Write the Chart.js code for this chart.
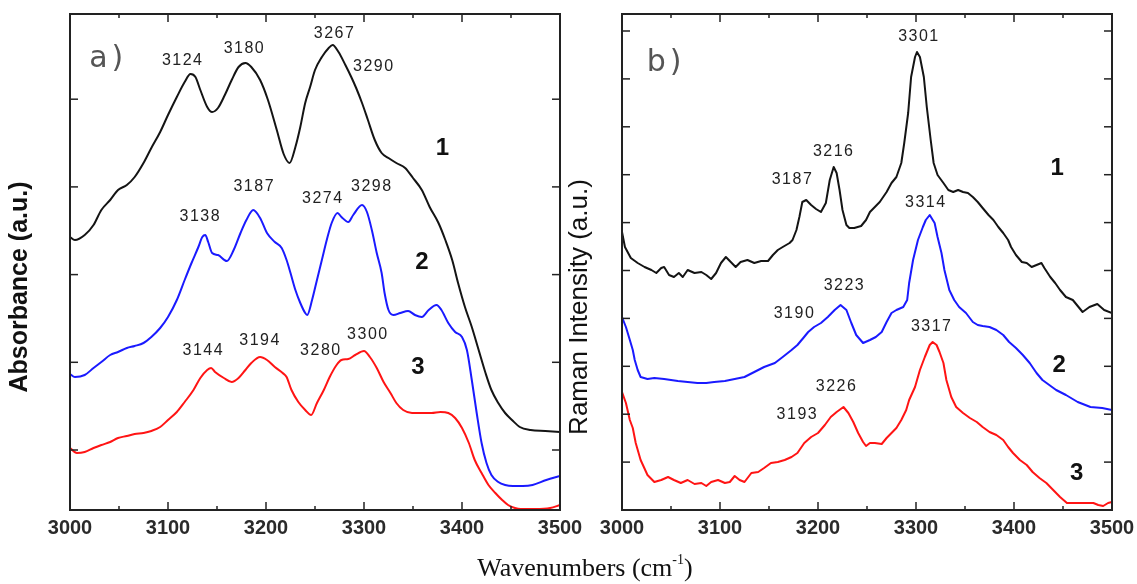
<!DOCTYPE html>
<html>
<head>
<meta charset="utf-8">
<script src="https://cdn.jsdelivr.net/npm/chart.js@4.4.1/dist/chart.umd.min.js"></script>
<style>
  html, body { margin: 0; padding: 0; background: #fff; }
  #page { position: relative; width: 1137px; height: 584px; overflow: hidden; background: #fff; }
  canvas { position: absolute; top: 0; }
  #absChart { left: 0; }
  #ramanChart { left: 560px; }
  #xtitle {
    position: absolute; left: 0; width: 1170px; top: 553px; text-align: center;
    font: 26px 'Liberation Serif', 'Times New Roman', serif; color: #111; line-height: 30px;
  }
  #xtitle sup { font-size: 14px; vertical-align: baseline; position: relative; top: -12px; }
</style>
</head>
<body>
<div id="page">
  <canvas id="absChart" width="590" height="584"></canvas>
  <canvas id="ramanChart" width="577" height="584"></canvas>
  <div id="xtitle">Wavenumbers (cm<sup>-1</sup>)</div>
</div>
<script>
// Wavenumber axis (shared by both panels)
const xTickValues = [3000, 3100, 3200, 3300, 3400, 3500];
const xTickLabels = ['3000', '3100', '3200', '3300', '3400', '3500'];
const xMinorTicks = [3050, 3150, 3250, 3350, 3450];

// Unlabelled y tick marks, arbitrary units
const absTicks = [0.600, 1.477, 2.354, 3.231, 4.108];
const ramanTicks = [0.479, 0.958, 1.437, 1.916, 2.395, 2.874, 3.353, 3.832, 4.311, 4.790];

// a) IR absorbance, [wavenumber, absorbance a.u.]
const abs1 = [
  [3000, 2.73], [3005, 2.70], [3015, 2.75], [3024, 2.85], [3032, 3.00], [3041, 3.10], [3049, 3.20],
  [3058, 3.25], [3066, 3.33], [3075, 3.47], [3083, 3.62], [3092, 3.78], [3100, 3.95], [3109, 4.13],
  [3117, 4.28], [3123, 4.36], [3128, 4.33], [3133, 4.20], [3140, 4.03], [3145, 3.98], [3151, 4.02],
  [3158, 4.15], [3165, 4.30], [3172, 4.43], [3179, 4.47], [3185, 4.43], [3194, 4.30], [3202, 4.10],
  [3211, 3.80], [3218, 3.56], [3224, 3.47], [3230, 3.63], [3235, 3.83], [3240, 4.07], [3245, 4.23],
  [3250, 4.40], [3257, 4.53], [3264, 4.62], [3268, 4.65], [3274, 4.58], [3281, 4.45], [3287, 4.33],
  [3292, 4.22], [3298, 4.07], [3304, 3.90], [3311, 3.70], [3318, 3.57], [3325, 3.52], [3333, 3.47],
  [3342, 3.42], [3350, 3.32], [3359, 3.20], [3367, 3.03], [3376, 2.87], [3383, 2.70], [3390, 2.50],
  [3396, 2.27], [3403, 2.03], [3410, 1.83], [3417, 1.60], [3424, 1.37], [3430, 1.20], [3437, 1.07],
  [3444, 0.97], [3451, 0.90], [3459, 0.83], [3470, 0.80], [3485, 0.79], [3500, 0.78]
];
const abs2 = [
  [3000, 1.36], [3005, 1.33], [3015, 1.35], [3024, 1.42], [3032, 1.48], [3041, 1.55], [3049, 1.58],
  [3058, 1.62], [3066, 1.64], [3075, 1.67], [3083, 1.73], [3092, 1.82], [3100, 1.93], [3109, 2.10],
  [3117, 2.30], [3124, 2.47], [3131, 2.63], [3135, 2.73], [3138, 2.75], [3141, 2.68], [3145, 2.57],
  [3151, 2.55], [3160, 2.49], [3167, 2.60], [3174, 2.77], [3180, 2.90], [3187, 3.00], [3194, 2.92],
  [3201, 2.77], [3209, 2.68], [3216, 2.62], [3221, 2.50], [3225, 2.37], [3230, 2.20], [3235, 2.07],
  [3240, 1.97], [3242, 1.95], [3247, 2.10], [3252, 2.30], [3257, 2.50], [3262, 2.70], [3267, 2.87],
  [3273, 2.97], [3277, 2.93], [3284, 2.88], [3289, 2.95], [3298, 3.05], [3303, 2.98], [3308, 2.80],
  [3313, 2.57], [3318, 2.37], [3321, 2.17], [3325, 2.00], [3330, 1.95], [3337, 1.97], [3345, 1.99],
  [3352, 1.95], [3359, 1.93], [3366, 2.00], [3374, 2.05], [3379, 2.00], [3386, 1.87], [3393, 1.78],
  [3400, 1.73], [3405, 1.60], [3410, 1.30], [3415, 0.97], [3420, 0.67], [3425, 0.47], [3430, 0.35],
  [3437, 0.28], [3444, 0.25], [3452, 0.24], [3462, 0.24], [3472, 0.25], [3486, 0.30], [3500, 0.34]
];
const abs3 = [
  [3000, 0.62], [3007, 0.57], [3015, 0.58], [3024, 0.62], [3032, 0.65], [3041, 0.68], [3049, 0.72],
  [3058, 0.74], [3066, 0.76], [3075, 0.77], [3083, 0.79], [3092, 0.83], [3100, 0.90], [3109, 0.98],
  [3117, 1.08], [3126, 1.20], [3133, 1.32], [3140, 1.40], [3144, 1.42], [3148, 1.38], [3157, 1.32],
  [3165, 1.28], [3172, 1.32], [3179, 1.40], [3185, 1.47], [3194, 1.53], [3201, 1.50], [3209, 1.43],
  [3217, 1.37], [3221, 1.33], [3226, 1.20], [3233, 1.08], [3240, 1.00], [3246, 0.95], [3252, 1.07],
  [3259, 1.20], [3265, 1.33], [3272, 1.45], [3277, 1.50], [3284, 1.51], [3291, 1.55], [3300, 1.59],
  [3306, 1.53], [3313, 1.42], [3320, 1.28], [3327, 1.17], [3333, 1.07], [3340, 1.00], [3349, 0.97],
  [3359, 0.97], [3369, 0.97], [3378, 0.98], [3386, 0.97], [3393, 0.92], [3400, 0.82], [3407, 0.67],
  [3413, 0.50], [3420, 0.37], [3427, 0.25], [3434, 0.17], [3441, 0.10], [3447, 0.05], [3454, 0.02],
  [3460, 0.01], [3475, 0.01], [3490, 0.02], [3500, 0.05]
];

// b) Raman, [wavenumber, intensity a.u.]
const raman1 = [
  [3000, 2.78], [3003, 2.63], [3009, 2.52], [3016, 2.47], [3023, 2.43], [3030, 2.40], [3035, 2.37],
  [3040, 2.42], [3043, 2.43], [3048, 2.35], [3053, 2.33], [3058, 2.37], [3062, 2.33], [3067, 2.40],
  [3074, 2.37], [3081, 2.38], [3086, 2.35], [3091, 2.31], [3096, 2.37], [3101, 2.47], [3106, 2.53],
  [3111, 2.48], [3116, 2.43], [3121, 2.48], [3128, 2.50], [3135, 2.47], [3142, 2.49], [3149, 2.49],
  [3154, 2.55], [3159, 2.60], [3164, 2.63], [3171, 2.67], [3174, 2.70], [3178, 2.80], [3181, 2.93],
  [3184, 3.08], [3188, 3.10], [3193, 3.05], [3198, 3.01], [3203, 2.98], [3208, 3.07], [3212, 3.30],
  [3216, 3.43], [3219, 3.37], [3222, 3.20], [3225, 3.00], [3229, 2.85], [3232, 2.82], [3237, 2.82],
  [3244, 2.84], [3249, 2.90], [3253, 2.98], [3258, 3.03], [3263, 3.08], [3270, 3.18], [3275, 3.27],
  [3280, 3.33], [3285, 3.47], [3288, 3.67], [3292, 3.97], [3295, 4.33], [3299, 4.53], [3301, 4.58],
  [3304, 4.53], [3308, 4.33], [3311, 4.03], [3315, 3.70], [3318, 3.47], [3322, 3.35], [3328, 3.27],
  [3333, 3.20], [3338, 3.18], [3343, 3.20], [3348, 3.18], [3353, 3.17], [3358, 3.13], [3363, 3.08],
  [3368, 3.02], [3374, 2.95], [3379, 2.90], [3384, 2.83], [3389, 2.77], [3394, 2.70], [3397, 2.63],
  [3402, 2.55], [3408, 2.48], [3413, 2.47], [3418, 2.43], [3423, 2.45], [3428, 2.47], [3431, 2.42],
  [3437, 2.33], [3442, 2.27], [3447, 2.20], [3453, 2.13], [3460, 2.10], [3470, 1.98], [3477, 2.03],
  [3485, 2.06], [3492, 2.00], [3500, 1.97]
];
const raman2 = [
  [3000, 1.93], [3004, 1.83], [3008, 1.70], [3011, 1.60], [3013, 1.50], [3016, 1.40], [3019, 1.33],
  [3026, 1.31], [3033, 1.32], [3043, 1.31], [3057, 1.29], [3067, 1.28], [3077, 1.27], [3086, 1.27],
  [3094, 1.28], [3105, 1.29], [3115, 1.31], [3125, 1.33], [3135, 1.38], [3145, 1.43], [3156, 1.47],
  [3164, 1.53], [3173, 1.60], [3179, 1.65], [3185, 1.72], [3190, 1.78], [3196, 1.83], [3203, 1.87],
  [3210, 1.93], [3217, 2.00], [3223, 2.05], [3229, 2.00], [3234, 1.87], [3239, 1.75], [3246, 1.67],
  [3253, 1.70], [3259, 1.73], [3265, 1.78], [3270, 1.88], [3275, 1.97], [3280, 2.00], [3287, 2.03],
  [3291, 2.10], [3293, 2.27], [3297, 2.50], [3302, 2.70], [3307, 2.83], [3310, 2.90], [3314, 2.95],
  [3319, 2.87], [3322, 2.73], [3326, 2.57], [3329, 2.40], [3334, 2.20], [3339, 2.10], [3344, 2.03],
  [3351, 1.97], [3358, 1.88], [3363, 1.85], [3368, 1.84], [3375, 1.83], [3382, 1.80], [3389, 1.75],
  [3395, 1.68], [3402, 1.62], [3409, 1.55], [3416, 1.47], [3423, 1.37], [3429, 1.30], [3436, 1.25],
  [3443, 1.20], [3453, 1.15], [3465, 1.08], [3478, 1.03], [3490, 1.02], [3500, 1.00]
];
const raman3 = [
  [3000, 1.18], [3004, 1.07], [3008, 0.90], [3011, 0.82], [3014, 0.67], [3019, 0.50], [3026, 0.35],
  [3033, 0.28], [3040, 0.30], [3047, 0.33], [3053, 0.30], [3060, 0.27], [3067, 0.30], [3074, 0.26],
  [3081, 0.27], [3086, 0.24], [3091, 0.28], [3098, 0.30], [3105, 0.27], [3110, 0.28], [3115, 0.34],
  [3120, 0.30], [3125, 0.28], [3132, 0.37], [3139, 0.38], [3145, 0.42], [3152, 0.47], [3159, 0.48],
  [3166, 0.50], [3173, 0.53], [3179, 0.57], [3186, 0.67], [3193, 0.73], [3200, 0.77], [3207, 0.85],
  [3213, 0.93], [3219, 0.98], [3226, 1.03], [3231, 0.97], [3236, 0.88], [3241, 0.77], [3246, 0.68],
  [3249, 0.64], [3253, 0.67], [3258, 0.67], [3265, 0.66], [3270, 0.72], [3275, 0.77], [3280, 0.82],
  [3285, 0.90], [3290, 1.00], [3293, 1.10], [3299, 1.23], [3304, 1.40], [3309, 1.53], [3314, 1.65],
  [3317, 1.68], [3321, 1.65], [3324, 1.58], [3328, 1.47], [3331, 1.30], [3336, 1.13], [3341, 1.03],
  [3348, 0.97], [3355, 0.92], [3362, 0.88], [3368, 0.83], [3375, 0.78], [3382, 0.75], [3389, 0.70],
  [3394, 0.63], [3399, 0.57], [3406, 0.50], [3413, 0.45], [3419, 0.38], [3426, 0.32], [3433, 0.27],
  [3440, 0.20], [3447, 0.13], [3454, 0.07], [3467, 0.07], [3481, 0.07], [3486, 0.05], [3491, 0.04],
  [3496, 0.07], [3500, 0.08]
];

// Peak labels and curve numbers, anchored in data coordinates
const absNotes = [
  ['a)', 3039, 4.51, 'panel'],
  ['3124', 3115, 4.49, 'peak'], ['3180', 3178, 4.61, 'peak'], ['3267', 3270, 4.76, 'peak'], ['3290', 3310, 4.43, 'peak'],
  ['3138', 3133, 2.93, 'peak'], ['3187', 3188, 3.23, 'peak'], ['3274', 3258, 3.11, 'peak'], ['3298', 3308, 3.23, 'peak'],
  ['3144', 3136, 1.59, 'peak'], ['3194', 3194, 1.69, 'peak'], ['3280', 3256, 1.59, 'peak'], ['3300', 3304, 1.75, 'peak'],
  ['1', 3380, 3.62, 'num'], ['2', 3359, 2.48, 'num'], ['3', 3355, 1.43, 'num']
];
const ramanNotes = [
  ['b)', 3045, 4.47, 'panel'],
  ['3187', 3174, 3.30, 'peak'], ['3216', 3216, 3.58, 'peak'], ['3301', 3303, 4.73, 'peak'],
  ['3190', 3176, 1.96, 'peak'], ['3223', 3227, 2.24, 'peak'], ['3314', 3310, 3.07, 'peak'],
  ['3193', 3179, 0.95, 'peak'], ['3226', 3219, 1.23, 'peak'], ['3317', 3316, 1.83, 'peak'],
  ['1', 3444, 3.42, 'num'], ['2', 3446, 1.45, 'num'], ['3', 3464, 0.37, 'num']
];

const noteStyles = {
  peak: { font: '16px "Liberation Sans", Arial, sans-serif', color: '#222', spacing: '1.5px' },
  num: { font: 'bold 24px "Liberation Sans", Arial, sans-serif', color: '#111', spacing: '0px' },
  panel: { font: '30px "DejaVu Sans", sans-serif', color: '#555', spacing: '4px' }
};

Chart.defaults.font.family = '"Liberation Sans", Arial, sans-serif';

// Box frame, inward tick marks, labels and rotated y title
const framePlugin = {
  id: 'frame',
  afterDatasetsDraw(chart, args, opts) {
    const { ctx, chartArea: a, scales: { x, y } } = chart;
    ctx.save();
    ctx.strokeStyle = '#222';
    const mark = (x0, y0, x1, y1) => {
      ctx.beginPath(); ctx.moveTo(x0, y0); ctx.lineTo(x1, y1); ctx.stroke();
    };
    ctx.lineWidth = 1.5;
    xTickValues.forEach(v => {
      const px = x.getPixelForValue(v);
      mark(px, a.bottom, px, a.bottom - 8);
      mark(px, a.top, px, a.top + 8);
    });
    xMinorTicks.forEach(v => {
      const px = x.getPixelForValue(v);
      mark(px, a.bottom, px, a.bottom - 4);
      mark(px, a.top, px, a.top + 4);
    });
    opts.yTicks.forEach(v => {
      const py = y.getPixelForValue(v);
      mark(a.left, py, a.left + 8, py);
      mark(a.right, py, a.right - 8, py);
    });
    ctx.lineWidth = 2;
    ctx.strokeRect(a.left, a.top, a.right - a.left, a.bottom - a.top);
    ctx.restore();
  },
  afterDraw(chart, args, opts) {
    const { ctx, scales: { x, y } } = chart;
    ctx.save();
    ctx.textAlign = 'center';
    ctx.textBaseline = 'middle';
    opts.notes.forEach(([text, wn, val, kind]) => {
      const st = noteStyles[kind];
      ctx.font = st.font;
      ctx.fillStyle = st.color;
      ctx.letterSpacing = st.spacing;
      ctx.fillText(text, x.getPixelForValue(wn), y.getPixelForValue(val));
    });
    const t = opts.yTitle;
    ctx.letterSpacing = '0px';
    ctx.font = t.font;
    ctx.fillStyle = '#111';
    ctx.translate(t.x, t.y);
    ctx.rotate(-Math.PI / 2);
    ctx.fillText(t.text, 0, 0);
    ctx.restore();
  }
};

function series(points, color, smooth) {
  return {
    data: points.map(([x, y]) => ({ x, y })),
    borderColor: color,
    borderWidth: 2,
    pointRadius: 0,
    fill: false,
    tension: 0,
    cubicInterpolationMode: smooth ? 'monotone' : 'default',
    borderJoinStyle: 'round'
  };
}

function makePanel(id, datasets, yTicks, notes, yTitle, axisWidth, padRight) {
  return new Chart(document.getElementById(id), {
    type: 'line',
    data: { datasets },
    plugins: [framePlugin],
    options: {
      responsive: false,
      animation: false,
      events: [],
      layout: { padding: { left: 0, top: 14, right: padRight, bottom: 0 } },
      plugins: {
        legend: { display: false },
        tooltip: { enabled: false },
        frame: { yTicks, notes, yTitle }
      },
      scales: {
        x: {
          type: 'linear',
          min: 3000,
          max: 3500,
          grid: { display: false, drawTicks: false },
          border: { display: false },
          afterBuildTicks: s => { s.ticks = xTickValues.map(v => ({ value: v })); },
          afterFit: s => { s.height = 74; s.paddingLeft = 0; s.paddingRight = 0; },
          ticks: {
            callback: (v, i) => xTickLabels[i],
            autoSkip: false,
            maxRotation: 0,
            padding: 6,
            color: '#2a2a2a',
            font: { size: 20, weight: 'bold' }
          }
        },
        y: {
          type: 'linear',
          min: 0,
          max: 4.96,
          grid: { display: false },
          border: { display: false },
          ticks: { display: false },
          afterFit: s => { s.width = axisWidth; }
        }
      }
    }
  });
}

makePanel('absChart', [
  series(abs1, '#141414', true),
  series(abs2, '#1a1aff', true),
  series(abs3, '#ff1414', true)
], absTicks, absNotes,
  { text: 'Absorbance (a.u.)', font: 'bold 25px "Liberation Sans", Arial, sans-serif', x: 20, y: 287 },
  70, 30);

makePanel('ramanChart', [
  series(raman1, '#141414', false),
  series(raman2, '#1a1aff', false),
  series(raman3, '#ff1414', false)
], ramanTicks, ramanNotes,
  { text: 'Raman Intensity (a.u.)', font: '26px "Liberation Sans", Arial, sans-serif', x: 20, y: 307 },
  62, 25);
</script>
</body>
</html>
